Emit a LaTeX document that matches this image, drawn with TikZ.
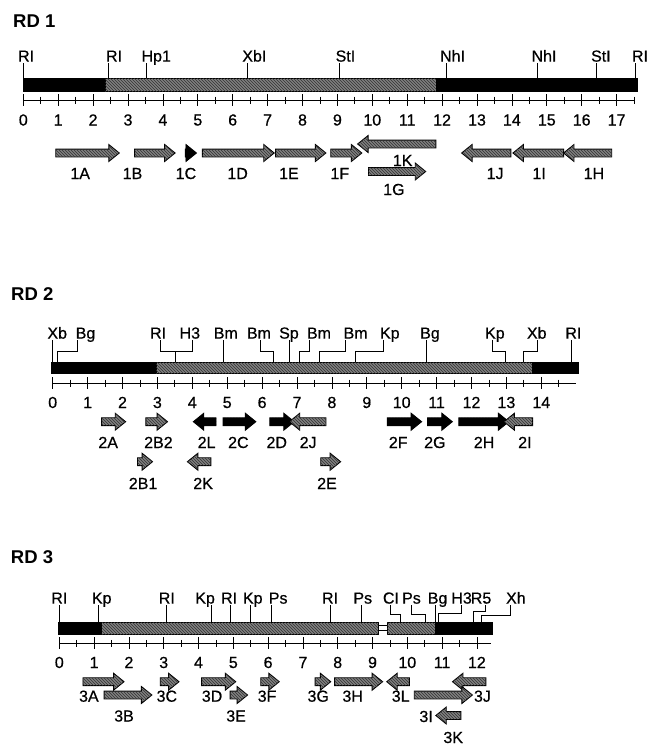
\documentclass[tikz,border=0pt]{standalone}
\usepackage{fontspec}
\setmainfont{Liberation Sans}
\usepackage{tikz}
\usetikzlibrary{shapes.arrows, patterns}

\definecolor{mapgray}{gray}{0.5}
\newcommand{\labfont}{\fontsize{16}{16}\selectfont\addfontfeatures{FakeBold=0.6}}
\newcommand{\kb}{34.9pt}
% one open reading frame: [opts]{name}{from}{to}{y}
\newcommand{\gene}[5][]{%
  \node[orf, #1, minimum height={(#4-#3)*\kb}] (#2) at ({(#3+#4)/2},#5) {};}

\tikzset{
  blk/.style={draw, fill=black},
  gry/.style={draw, fill=mapgray, pattern color=black!80, postaction={pattern=north west lines}},
  orf/.style={single arrow, draw, line width=0.9pt, gry,
              inner xsep=0pt, inner ysep=3.5pt, minimum width=0pt,
              single arrow head extend=4.5pt, single arrow tip angle=78},
  rev/.style={shape border rotate=180},
  blackorf/.style={fill=black, pattern color=black},
  site/.style={font=\labfont, anchor=south, inner sep=1pt, text depth=0pt},
  num/.style={font=\labfont, anchor=base, inner sep=0pt},
  glab/.style={font=\labfont, anchor=base, inner sep=0pt},
  maptitle/.style={font=\fontsize{18.5}{19}\selectfont\bfseries, anchor=base west, inner sep=0pt},
}

\begin{document}
\begin{tikzpicture}[x=1pt, y=-1pt, line width=0.8pt]
\useasboundingbox (0,0) rectangle (647,745);

%% RD 1
\begin{scope}[xshift=23.3pt, x=34.9pt]
\node[maptitle] (rd1) at (-0.3,27) {RD 1};
\draw[blk] (0,78) rectangle (2.34,91);
\draw[gry] (2.34,78) rectangle (11.85,91);
\draw[blk] (11.85,78) rectangle (17.6,91);
% scale
\draw (0,100) -- (17.5,100);
\foreach \k in {0,...,17} \draw (\k,94) -- (\k,106);
\foreach \k in {0.5,1.5,...,17.5} \draw (\k,96.5) -- (\k,103.5);
\foreach \k in {0,...,17} \node[num] (na\k) at (\k,125.5) {\k};
% sites
\foreach \sx/\lx/\txt [count=\i] in {0/0.08/RI, 2.45/2.6/RI, 3.54/3.81/Hp1,
    6.43/6.62/XbI, 9.07/9.23/StI, 12.13/12.3/NhI, 14.73/14.92/NhI,
    16.41/16.55/StI, 17.55/17.67/RI}{
  \node[site] (sa\i) at (\lx,63) {\txt};
  \draw (sa\i.south -| \sx,0) -- (\sx,78);
}
% genes
\gene{g1A}{0.86}{2.68}{153}
\gene{g1B}{3.12}{4.28}{153}
\gene[blackorf]{g1C}{4.57}{4.89}{153}
\gene{g1D}{5.06}{7.12}{153}
\gene{g1E}{7.16}{8.6}{153}
\gene{g1F}{8.74}{9.63}{153}
\gene[rev]{g1K}{9.65}{11.89}{144}
\gene{g1G}{9.82}{11.46}{171.5}
\gene[rev]{g1J}{12.63}{14.04}{153}
\gene[rev]{g1I}{14.1}{15.55}{153}
\gene[rev]{g1H}{15.55}{16.93}{153}
\node[glab] (l1A) at (1.63,179) {1A};
\node[glab] (l1B) at (3.13,179) {1B};
\node[glab] (l1C) at (4.66,179) {1C};
\node[glab] (l1D) at (6.14,179) {1D};
\node[glab] (l1E) at (7.61,179) {1E};
\node[glab] (l1F) at (9.07,179) {1F};
\node[glab] (l1K) at (10.87,166) {1K};
\node[glab] (l1G) at (10.62,195) {1G};
\node[glab] (l1J) at (13.52,179) {1J};
\node[glab] (l1I) at (14.78,179) {1I};
\node[glab] (l1H) at (16.35,179) {1H};
\end{scope}

%% RD 2
\begin{scope}[xshift=52.7pt, x=34.9pt]
\node[maptitle] (rd2) at (-1.2,300) {RD 2};
\draw[blk] (-0.05,362) rectangle (2.96,373.5);
\draw[gry] (2.96,362) rectangle (13.75,373.5);
\draw[blk] (13.75,362) rectangle (15.06,373.5);
% scale
\draw (0,383) -- (15,383);
\foreach \k in {0,...,14} \draw (\k,377) -- (\k,389);
\foreach \k in {0.5,1.5,...,14.5} \draw (\k,379.5) -- (\k,386.5);
\foreach \k in {0,...,14} \node[num] (nb\k) at (\k,408) {\k};
% sites
\foreach \sx/\lx/\txt [count=\i] in {0/0.13/Xb, 4.89/4.96/Bm, 6.78/6.77/Sp,
    10.72/10.81/Bg, 14.87/14.92/RI}{
  \node[site] (sb\i) at (\lx,340) {\txt};
  \draw (sb\i.south -| \sx,0) -- (\sx,362);
}
\node[site] (bg2) at (0.94,340) {Bg};
\draw (bg2.south -| 0.70,0) |- (0.13,351) -- (0.13,362);
\node[site] (ri2) at (3.02,340) {RI};
\draw (ri2.south -| 3.09,0) |- (3.52,351) -- (3.52,362);
\node[site] (h32) at (3.93,340) {H3};
\draw (h32.south -| 4.0,0) |- (3.52,351);
\node[site] (bma) at (5.91,340) {Bm};
\draw (bma.south -| 5.94,0) |- (6.32,351) -- (6.32,362);
\node[site] (bmb) at (7.63,340) {Bm};
\draw (bmb.south -| 7.35,0) |- (7.07,351) -- (7.07,362);
\node[site] (bmc) at (8.68,340) {Bm};
\draw (bmc.south -| 8.40,0) |- (7.64,351) -- (7.64,362);
\node[site] (kpa) at (9.66,340) {Kp};
\draw (kpa.south -| 9.47,0) |- (8.66,351.5) -- (8.66,362);
\node[site] (kpb) at (12.67,340) {Kp};
\draw (kpb.south -| 12.61,0) |- (12.96,351.5) -- (12.96,362);
\node[site] (xb2) at (13.87,340) {Xb};
\draw (xb2.south -| 13.89,0) |- (13.5,351.5) -- (13.5,362);
% genes
\gene{g2A}{1.33}{2.02}{421.7}
\gene{g2B2}{2.6}{3.22}{421.7}
\gene[rev, blackorf]{g2L}{4.1}{4.75}{421.7}
\gene[blackorf]{g2C}{4.81}{5.75}{421.7}
\gene[blackorf]{g2D}{6.15}{6.85}{421.7}
\gene[rev]{g2J}{6.85}{7.9}{421.7}
\gene[blackorf]{g2F}{9.52}{10.5}{421.7}
\gene[blackorf]{g2G}{10.67}{11.38}{421.7}
\gene[blackorf]{g2H}{11.57}{13.0}{421.7}
\gene[rev]{g2I}{13.0}{13.82}{421.7}
\gene{g2B1}{2.36}{2.79}{461.7}
\gene[rev]{g2K}{3.93}{4.6}{461.7}
\gene{g2E}{7.61}{8.18}{461.7}
\node[glab] (l2A) at (1.59,448) {2A};
\node[glab] (l2B2) at (3.03,448) {2B2};
\node[glab] (l2L) at (4.41,448) {2L};
\node[glab] (l2C) at (5.32,448) {2C};
\node[glab] (l2D) at (6.42,448) {2D};
\node[glab] (l2J) at (7.32,448) {2J};
\node[glab] (l2F) at (9.9,448) {2F};
\node[glab] (l2G) at (10.95,448) {2G};
\node[glab] (l2H) at (12.36,448) {2H};
\node[glab] (l2I) at (13.53,448) {2I};
\node[glab] (l2B1) at (2.59,489) {2B1};
\node[glab] (l2K) at (4.31,489) {2K};
\node[glab] (l2E) at (7.86,489) {2E};
\end{scope}

%% RD 3
\renewcommand{\kb}{34.8pt}
\begin{scope}[xshift=59.3pt, x=34.8pt]
\node[maptitle] (rd3) at (-1.4,563) {RD 3};
\draw[blk] (-0.03,622.5) rectangle (1.22,634);
\draw[gry] (1.22,622.5) rectangle (9.17,634);
\draw[fill=white] (9.17,625.5) rectangle (9.43,630.5);
\draw[gry] (9.43,622.5) rectangle (10.82,634);
\draw[blk] (10.82,622.5) rectangle (12.44,634);
% scale
\draw (0,643.3) -- (12.4,643.3);
\foreach \k in {0,...,12} \draw (\k,637.3) -- (\k,649.3);
\foreach \k in {0.5,1.5,...,11.5} \draw (\k,639.8) -- (\k,646.8);
\foreach \k in {0,...,12} \node[num] (nc\k) at (\k,668) {\k};
% sites
\foreach \sx/\lx/\txt [count=\i] in {0/0/RI, 1.12/1.22/Kp, 3.09/3.09/RI,
    4.38/4.19/Kp, 4.93/4.88/RI, 5.48/5.56/Kp, 6.1/6.29/Ps, 7.78/7.78/RI,
    8.67/8.72/Ps, 10.8/10.87/Bg}{
  \node[site] (sc\i) at (\lx,605) {\txt};
  \draw (sc\i.south -| \sx,0) -- (\sx,622.5);
}
\node[site] (cl3) at (9.53,605) {CI};
\draw (cl3.south -| 9.5,0) |- (9.79,614.3) -- (9.79,622.5);
\node[site] (ps3) at (10.12,605) {Ps};
\draw (ps3.south -| 10.13,0) |- (10.51,614.3) -- (10.51,622.5);
\node[site] (h33) at (11.56,605) {H3};
\draw (h33.south -| 11.56,0) |- (10.89,613.5) -- (10.89,622.5);
\node[site] (r53) at (12.12,605) {R5};
\draw (r53.south -| 12.25,0) |- (11.89,611) -- (11.89,622.5);
\node[site] (xh3) at (13.12,605) {Xh};
\draw (xh3.south -| 12.97,0) |- (12.12,615.5) -- (12.12,622.5);
% genes
\gene{g3A}{0.61}{1.79}{681.7}
\gene{g3C}{2.83}{3.37}{681.7}
\gene{g3D}{4.02}{5.0}{681.7}
\gene{g3F}{5.72}{6.25}{681.7}
\gene{g3G}{7.28}{7.73}{681.7}
\gene{g3H}{7.84}{9.22}{681.7}
\gene[rev]{g3L}{9.48}{10.13}{681.7}
\gene[rev]{g3J}{11.37}{12.33}{681.7}
\gene{g3B}{1.22}{2.59}{695}
\gene{g3E}{4.84}{5.34}{695}
\gene{g3I}{10.13}{11.8}{695}
\gene[rev]{g3K}{10.89}{11.61}{715.5}
\node[glab] (l3A) at (0.85,701.7) {3A};
\node[glab] (l3C) at (3.09,701.7) {3C};
\node[glab] (l3D) at (4.39,701.7) {3D};
\node[glab] (l3F) at (5.97,701.7) {3F};
\node[glab] (l3G) at (7.44,701.7) {3G};
\node[glab] (l3H) at (8.43,701.7) {3H};
\node[glab] (l3L) at (9.81,701.7) {3L};
\node[glab] (l3J) at (12.16,701.7) {3J};
\node[glab] (l3B) at (1.86,721.5) {3B};
\node[glab] (l3E) at (5.08,721.5) {3E};
\node[glab] (l3I) at (10.54,722) {3I};
\node[glab] (l3K) at (11.32,743) {3K};
\end{scope}
\end{tikzpicture}
\end{document}
